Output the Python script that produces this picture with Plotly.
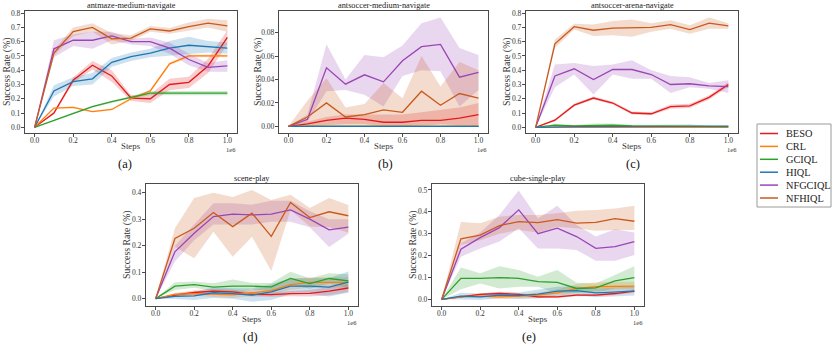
import plotly.graph_objects as go

W, H = 839, 352

STEPS = [0.0, 0.1, 0.2, 0.3, 0.4, 0.5, 0.6, 0.7, 0.8, 0.9, 1.0]
METHODS = ["BESO", "CRL", "GCIQL", "HIQL", "NFGCIQL", "NFHIQL"]
COLORS = ["#e41a1c", "#ff7f0e", "#2ca02c", "#1f77b4", "#9b45b5", "#c95a1e"]
TITLES = ["antmaze-medium-navigate", "antsoccer-medium-navigate", "antsoccer-arena-navigate",
          "scene-play", "cube-single-play"]
CAPTIONS = ["(a)", "(b)", "(c)", "(d)", "(e)"]

# ---- (a) antmaze-medium-navigate ----
A_MEAN = {
    "BESO":    [0, 0.10, 0.33, 0.435, 0.36, 0.205, 0.20, 0.30, 0.315, 0.43, 0.63],
    "CRL":     [0, 0.135, 0.14, 0.11, 0.125, 0.20, 0.255, 0.445, 0.50, 0.50, 0.50],
    "GCIQL":   [0, 0.05, 0.10, 0.145, 0.18, 0.21, 0.24, 0.24, 0.24, 0.24, 0.24],
    "HIQL":    [0, 0.255, 0.32, 0.34, 0.455, 0.495, 0.52, 0.555, 0.575, 0.565, 0.555],
    "NFGCIQL": [0, 0.55, 0.61, 0.61, 0.64, 0.60, 0.60, 0.555, 0.475, 0.42, 0.43],
    "NFHIQL":  [0, 0.52, 0.67, 0.70, 0.62, 0.625, 0.69, 0.675, 0.705, 0.73, 0.71],
}
A_SD = {
    "BESO":    [0, 0.01, 0.02, 0.03, 0.04, 0.02, 0.03, 0.04, 0.04, 0.05, 0.05],
    "CRL":     [0, 0.005, 0.005, 0.005, 0.005, 0.01, 0.01, 0.01, 0.01, 0.01, 0.01],
    "GCIQL":   [0, 0.004, 0.005, 0.006, 0.007, 0.008, 0.015, 0.015, 0.015, 0.015, 0.015],
    "HIQL":    [0, 0.04, 0.03, 0.04, 0.03, 0.03, 0.03, 0.05, 0.06, 0.04, 0.04],
    "NFGCIQL": [0, 0.06, 0.04, 0.06, 0.03, 0.02, 0.03, 0.04, 0.04, 0.03, 0.04],
    "NFHIQL":  [0, 0.02, 0.03, 0.03, 0.04, 0.02, 0.02, 0.02, 0.03, 0.03, 0.04],
}

# ---- (b) antsoccer-medium-navigate ----
B_MEAN = {
    "BESO":    [0, 0.002, 0.005, 0.007, 0.006, 0.0035, 0.0035, 0.005, 0.005, 0.007, 0.010],
    "CRL":     [0] * 11,
    "GCIQL":   [0] * 11,
    "HIQL":    [0] * 11,
    "NFGCIQL": [0, 0.006, 0.050, 0.036, 0.044, 0.038, 0.056, 0.068, 0.070, 0.042, 0.046],
    "NFHIQL":  [0, 0.008, 0.020, 0.008, 0.010, 0.014, 0.012, 0.030, 0.018, 0.028, 0.024],
}
B_LO = {
    "BESO":    [0, 0, 0.001, 0.002, 0.002, 0.0, 0.0, 0.001, 0.001, 0.0, 0.0],
    "NFGCIQL": [0, 0.004, 0.030, 0.031, 0.027, 0.017, 0.043, 0.048, 0.047, 0.017, 0.031],
    "NFHIQL":  [0, 0.0, 0.0, 0.0, 0.0, 0.0, 0.0, 0.0, 0.002, 0.001, 0.0],
}
B_HI = {
    "BESO":    [0, 0.004, 0.008, 0.010, 0.010, 0.010, 0.010, 0.012, 0.014, 0.016, 0.020],
    "NFGCIQL": [0, 0.010, 0.070, 0.040, 0.061, 0.059, 0.069, 0.088, 0.093, 0.067, 0.061],
    "NFHIQL":  [0, 0.022, 0.041, 0.016, 0.019, 0.037, 0.024, 0.060, 0.034, 0.055, 0.048],
}

# ---- (c) antsoccer-arena-navigate ----
C_MEAN = {
    "BESO":    [0, 0.05, 0.155, 0.205, 0.17, 0.10, 0.095, 0.145, 0.15, 0.21, 0.30],
    "CRL":     [0] * 11,
    "GCIQL":   [0, 0.015, 0.01, 0.015, 0.015, 0.01, 0.01, 0.01, 0.01, 0.005, 0.005],
    "HIQL":    [0, 0.004, 0.004, 0.005, 0.005, 0.005, 0.005, 0.005, 0.005, 0.005, 0.008],
    "NFGCIQL": [0, 0.36, 0.41, 0.335, 0.405, 0.405, 0.37, 0.30, 0.305, 0.29, 0.285],
    "NFHIQL":  [0, 0.585, 0.705, 0.68, 0.695, 0.695, 0.70, 0.72, 0.685, 0.73, 0.71],
}
C_LO = {
    "NFGCIQL": [0, 0.28, 0.37, 0.23, 0.37, 0.34, 0.34, 0.24, 0.28, 0.27, 0.24],
}
C_HI = {
    "NFGCIQL": [0, 0.44, 0.45, 0.43, 0.44, 0.47, 0.40, 0.36, 0.35, 0.31, 0.33],
}
C_SD = {
    "BESO":    [0, 0.01, 0.01, 0.01, 0.01, 0.01, 0.01, 0.015, 0.015, 0.015, 0.015],
    "CRL":     [0] * 11,
    "GCIQL":   [0, 0.008, 0.006, 0.012, 0.012, 0.008, 0.008, 0.008, 0.012, 0.005, 0.005],
    "HIQL":    [0, 0.003, 0.003, 0.003, 0.003, 0.003, 0.003, 0.003, 0.003, 0.003, 0.003],
    "NFHIQL":  [0, 0.03, 0.02, 0.04, 0.05, 0.06, 0.03, 0.03, 0.03, 0.04, 0.02],
}

# ---- (d) scene-play ----
D_MEAN = {
    "BESO":    [0, 0.013, 0.023, 0.028, 0.025, 0.016, 0.015, 0.019, 0.020, 0.028, 0.040],
    "CRL":     [0, 0.016, 0.019, 0.016, 0.014, 0.022, 0.030, 0.053, 0.061, 0.061, 0.061],
    "GCIQL":   [0, 0.047, 0.053, 0.043, 0.047, 0.047, 0.044, 0.076, 0.057, 0.076, 0.067],
    "HIQL":    [0, 0.008, 0.010, 0.022, 0.019, 0.013, 0.025, 0.047, 0.047, 0.043, 0.062],
    "NFGCIQL": [0, 0.177, 0.247, 0.310, 0.319, 0.316, 0.319, 0.335, 0.300, 0.260, 0.270],
    "NFHIQL":  [0, 0.227, 0.266, 0.325, 0.272, 0.323, 0.235, 0.363, 0.306, 0.328, 0.313],
}
D_LO = {
    "NFGCIQL": [0, 0.14, 0.22, 0.28, 0.28, 0.28, 0.29, 0.29, 0.27, 0.195, 0.245],
    "NFHIQL":  [0, 0.196, 0.152, 0.253, 0.158, 0.234, 0.104, 0.335, 0.272, 0.270, 0.250],
}
D_HI = {
    "NFGCIQL": [0, 0.20, 0.28, 0.36, 0.36, 0.355, 0.37, 0.37, 0.33, 0.30, 0.30],
    "NFHIQL":  [0, 0.266, 0.380, 0.400, 0.384, 0.410, 0.373, 0.392, 0.342, 0.380, 0.354],
}
D_SD = {
    "BESO":    [0, 0.006, 0.008, 0.008, 0.008, 0.008, 0.008, 0.010, 0.012, 0.015, 0.015],
    "CRL":     [0, 0.006, 0.008, 0.01, 0.012, 0.012, 0.015, 0.02, 0.02, 0.02, 0.02],
    "GCIQL":   [0, 0.015, 0.012, 0.015, 0.025, 0.012, 0.015, 0.025, 0.02, 0.02, 0.025],
    "HIQL":    [0, 0.01, 0.015, 0.02, 0.02, 0.025, 0.03, 0.03, 0.03, 0.035, 0.04],
}

# ---- (e) cube-single-play ----
E_MEAN = {
    "BESO":    [0, 0.012, 0.023, 0.027, 0.023, 0.012, 0.012, 0.020, 0.020, 0.027, 0.038],
    "CRL":     [0, 0.012, 0.015, 0.012, 0.015, 0.020, 0.030, 0.050, 0.058, 0.061, 0.061],
    "GCIQL":   [0, 0.096, 0.096, 0.100, 0.096, 0.081, 0.078, 0.050, 0.053, 0.085, 0.100],
    "HIQL":    [0, 0.015, 0.012, 0.020, 0.017, 0.024, 0.038, 0.040, 0.030, 0.035, 0.038],
    "NFGCIQL": [0, 0.229, 0.282, 0.328, 0.409, 0.300, 0.325, 0.287, 0.233, 0.241, 0.264],
    "NFHIQL":  [0, 0.277, 0.294, 0.337, 0.355, 0.351, 0.364, 0.348, 0.352, 0.369, 0.357],
}
E_LO = {
    "GCIQL":   [0, 0.046, 0.073, 0.050, 0.058, 0.058, 0.027, 0.027, 0.030, 0.050, 0.050],
    "NFGCIQL": [0, 0.195, 0.233, 0.264, 0.325, 0.233, 0.233, 0.226, 0.177, 0.177, 0.203],
    "NFHIQL":  [0, 0.248, 0.270, 0.300, 0.317, 0.305, 0.332, 0.325, 0.314, 0.317, 0.317],
}
E_HI = {
    "GCIQL":   [0, 0.146, 0.119, 0.152, 0.134, 0.104, 0.134, 0.076, 0.073, 0.111, 0.152],
    "NFGCIQL": [0, 0.256, 0.305, 0.386, 0.497, 0.370, 0.428, 0.340, 0.287, 0.320, 0.305],
    "NFHIQL":  [0, 0.354, 0.348, 0.378, 0.386, 0.386, 0.393, 0.405, 0.408, 0.415, 0.428],
}
E_SD = {
    "BESO":    [0, 0.004, 0.005, 0.006, 0.006, 0.005, 0.005, 0.006, 0.006, 0.007, 0.008],
    "CRL":     [0, 0.006, 0.008, 0.01, 0.01, 0.012, 0.015, 0.02, 0.02, 0.02, 0.02],
    "HIQL":    [0, 0.015, 0.015, 0.015, 0.015, 0.02, 0.02, 0.02, 0.02, 0.02, 0.02],
}

Y_RANGES = [[-0.04, 0.815], [-0.0057, 0.0985], [-0.04, 0.815], [-0.028, 0.433], [-0.03, 0.527]]
Y_TICKS = [[0.0, 0.1, 0.2, 0.3, 0.4, 0.5, 0.6, 0.7, 0.8],
           [0.0, 0.02, 0.04, 0.06, 0.08],
           [0.0, 0.1, 0.2, 0.3, 0.4, 0.5, 0.6, 0.7, 0.8],
           [0.0, 0.1, 0.2, 0.3, 0.4],
           [0.0, 0.1, 0.2, 0.3, 0.4, 0.5]]
Y_FMT = [".1f", ".2f", ".1f", ".1f", ".1f"]
X_TICKS = [0.0, 0.2, 0.4, 0.6, 0.8, 1.0]

PANELS = [
    (A_MEAN, {}, {}, A_SD),
    (B_MEAN, B_LO, B_HI, {}),
    (C_MEAN, C_LO, C_HI, C_SD),
    (D_MEAN, D_LO, D_HI, D_SD),
    (E_MEAN, E_LO, E_HI, E_SD),
]

# pixel boxes of the axes frames: (left, right, top, bottom)
BOXES = [(25, 237, 11, 133), (279, 488, 11, 133), (526, 738, 11, 133),
         (146, 358, 184, 306), (432, 644, 184, 306)]
YTITLE_X = [7, 258, 507, 127, 413]
CAPTION_X = [125, 385, 633, 250, 529]


def px(x):
    return x / W


def py(y):
    return 1 - y / H


def rgba(hexc, a):
    h = hexc.lstrip("#")
    r, g, b = int(h[0:2], 16), int(h[2:4], 16), int(h[4:6], 16)
    return f"rgba({r},{g},{b},{a})"


fig = go.Figure()
SERIF = "Liberation Serif"
annotations = []
shapes = []

for i, (mean, lo_d, hi_d, sd_d) in enumerate(PANELS):
    n = i + 1
    xa = "x" if n == 1 else f"x{n}"
    ya = "y" if n == 1 else f"y{n}"
    for m, c in zip(METHODS, COLORS):
        mu = mean[m]
        if m in lo_d:
            lo, hi = lo_d[m], hi_d[m]
        elif m in sd_d:
            lo = [a - s for a, s in zip(mu, sd_d[m])]
            hi = [a + s for a, s in zip(mu, sd_d[m])]
        else:
            lo, hi = None, None
        if lo is not None:
            fig.add_trace(go.Scatter(x=STEPS + STEPS[::-1], y=hi + lo[::-1], fill="toself",
                                     fillcolor=rgba(c, 0.22), line=dict(width=0),
                                     hoverinfo="skip", showlegend=False, xaxis=xa, yaxis=ya))
    for m, c in zip(METHODS, COLORS):
        fig.add_trace(go.Scatter(x=STEPS, y=mean[m], mode="lines", name=m,
                                 line=dict(color=c, width=1.3), showlegend=False,
                                 xaxis=xa, yaxis=ya))

    l, r, t, b = BOXES[i]
    axcommon = dict(showline=True, linecolor="#4a4a4a", linewidth=1.3, mirror=True,
                    ticks="outside", ticklen=3, tickwidth=0.8, tickcolor="#4a4a4a",
                    showgrid=False, zeroline=False, automargin=False,
                    tickfont=dict(family=SERIF, size=7.5, color="#333"))
    fig.update_layout(**{
        ("xaxis" if n == 1 else f"xaxis{n}"): dict(
            domain=[px(l), px(r)], anchor=ya, range=[-0.05, 1.05],
            tickvals=X_TICKS, tickformat=".1f", ticklabelstandoff=-3,
            **axcommon),
        ("yaxis" if n == 1 else f"yaxis{n}"): dict(
            domain=[py(b), py(t)], anchor=xa, range=Y_RANGES[i],
            tickvals=Y_TICKS[i], tickformat=Y_FMT[i], ticklabelstandoff=-1,
            **axcommon),
    })
    # subplot title
    annotations.append(dict(text=TITLES[i], x=px((l + r) / 2), y=py(t - 5.5), xref="paper", yref="paper",
                            xanchor="center", yanchor="middle", showarrow=False,
                            font=dict(family=SERIF, size=8.3, color="#222")))
    # x title
    annotations.append(dict(text="Steps", x=px((l + r) / 2), y=py(b + 13), xref="paper", yref="paper",
                            xanchor="center", yanchor="middle", showarrow=False,
                            font=dict(family=SERIF, size=8.8, color="#333")))
    # y title
    annotations.append(dict(text="Success Rate (%)", x=px(YTITLE_X[i]), y=py((t + b) / 2),
                            xref="paper", yref="paper", textangle=-90, showarrow=False,
                            xanchor="center", yanchor="middle",
                            font=dict(family=SERIF, size=9.8, color="#333")))
    # offset text
    annotations.append(dict(text="1e6", x=px(r + 1), y=py(b + 11), xref="paper", yref="paper",
                            xanchor="right", yanchor="top", showarrow=False,
                            font=dict(family=SERIF, size=6.5, color="#333")))
    # caption
    annotations.append(dict(text=CAPTIONS[i], x=px(CAPTION_X[i]), y=py(b + 31), xref="paper",
                            yref="paper", xanchor="center", yanchor="middle", showarrow=False,
                            font=dict(family=SERIF, size=12.5, color="#111")))

# manual legend
LX0, LX1, LY0, LY1 = 757, 831, 124, 207
shapes.append(dict(type="rect", xref="paper", yref="paper", x0=px(LX0), x1=px(LX1),
                   y0=py(LY1), y1=py(LY0), line=dict(color="#9a9a9a", width=1),
                   fillcolor="white", layer="above"))
for k, (m, c) in enumerate(zip(METHODS, COLORS)):
    yy = 133.5 + 12.9 * k
    shapes.append(dict(type="line", xref="paper", yref="paper", x0=px(760), x1=px(778),
                       y0=py(yy), y1=py(yy), line=dict(color=c, width=1.5), layer="above"))
    annotations.append(dict(text=m, x=px(784), y=py(yy), xref="paper", yref="paper",
                            xanchor="left", yanchor="middle", showarrow=False,
                            font=dict(family=SERIF, size=10.3, color="#222")))

fig.update_layout(width=W, height=H, margin=dict(l=0, r=0, t=0, b=0),
                  paper_bgcolor="white", plot_bgcolor="white",
                  annotations=annotations, shapes=shapes, showlegend=False)

fig.write_html("out.html", config={"displayModeBar": False},
               post_script="document.body.style.margin='0';")
